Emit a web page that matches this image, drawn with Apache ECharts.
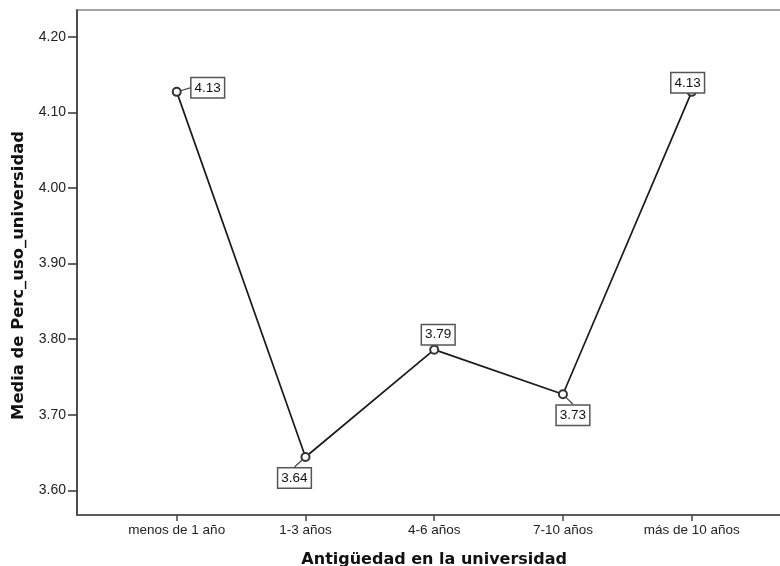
<!DOCTYPE html>
<html>
<head>
<meta charset="utf-8">
<script src="https://cdn.jsdelivr.net/npm/echarts@6/dist/echarts.min.js"></script>
<style>
  html, body { margin: 0; padding: 0; background: #fff; }
  #chart { width: 780px; height: 566px; }
</style>
</head>
<body>
<div id="chart"></div>
<script>
// Mean perceived university use by seniority group
const categories = ['menos de 1 año', '1-3 años', '4-6 años', '7-10 años', 'más de 10 años'];
const means = [4.127, 3.644, 3.786, 3.727, 4.127];
const yTicks = [3.6, 3.7, 3.8, 3.9, 4.0, 4.1, 4.2];

// label box offsets (px) relative to each marker
const labelShift = [[31, -4], [-11, 21], [4, -15], [10, 21], [-4, -9]];

const positions = categories.map((_, i) => i + 1);
const points = means.map((v, i) => [positions[i], v]);

const chart = echarts.init(document.getElementById('chart'));
chart.setOption({
  animation: false,
  backgroundColor: '#fff',
  grid: {
    left: 77, top: 10, width: 714.4, height: 505,
    outerBoundsMode: 'none',
    containLabel: false,
    show: true, borderColor: '#888', borderWidth: 1.5, backgroundColor: 'transparent'
  },
  xAxis: {
    type: 'value',
    min: 0.2253,
    max: 5.7747,
    name: 'Antigüedad en la universidad',
    nameLocation: 'middle',
    nameGap: 37,
    nameTextStyle: { fontFamily: 'DejaVu Sans', fontWeight: 'bold', fontSize: 16, color: '#111' },
    axisLine: { show: true, lineStyle: { color: '#444', width: 1.5 } },
    axisTick: { show: true, customValues: positions, length: 6, lineStyle: { color: '#444', width: 1.5 } },
    axisLabel: {
      customValues: positions,
      formatter: v => categories[Math.round(v) - 1] || '',
      fontFamily: 'Liberation Sans, Arial', fontSize: 13.5, color: '#222', margin: 8
    },
    splitLine: { show: false }
  },
  yAxis: {
    type: 'value',
    min: 3.5673,
    max: 4.2353,
    name: 'Media de Perc_uso_universidad',
    nameLocation: 'middle',
    nameGap: 50,
    nameTextStyle: {
      fontFamily: 'DejaVu Sans', fontWeight: 'bold', fontSize: 16.4, color: '#111',
      padding: [0, 26, 0, 0]
    },
    axisLine: { show: true, lineStyle: { color: '#333', width: 1.5 } },
    axisTick: { show: true, customValues: yTicks, length: 9, lineStyle: { color: '#333', width: 1.5 } },
    axisLabel: {
      customValues: yTicks,
      formatter: v => v.toFixed(2),
      fontFamily: 'Liberation Sans, Arial', fontSize: 14, color: '#222', margin: 11
    },
    splitLine: { show: false }
  },
  series: [{
    type: 'line',
    data: points,
    symbol: 'emptyCircle',
    symbolSize: 8,
    itemStyle: { color: '#333', borderColor: '#333', borderWidth: 1.2 },
    lineStyle: { color: '#1a1a1a', width: 1.7 },
    label: {
      show: true,
      position: 'inside',
      formatter: p => p.value[1].toFixed(2),
      fontFamily: 'Liberation Sans, Arial',
      fontSize: 13.5,
      color: '#111',
      backgroundColor: '#fff',
      borderColor: '#555',
      borderWidth: 1.5,
      padding: [3, 3, 2, 3]
    },
    labelLine: { show: true, length2: 0, lineStyle: { color: '#444', width: 1.2 } },
    labelLayout: p => ({ dx: labelShift[p.dataIndex][0], dy: labelShift[p.dataIndex][1] }),
    z: 3
  }]
});
</script>
</body>
</html>
